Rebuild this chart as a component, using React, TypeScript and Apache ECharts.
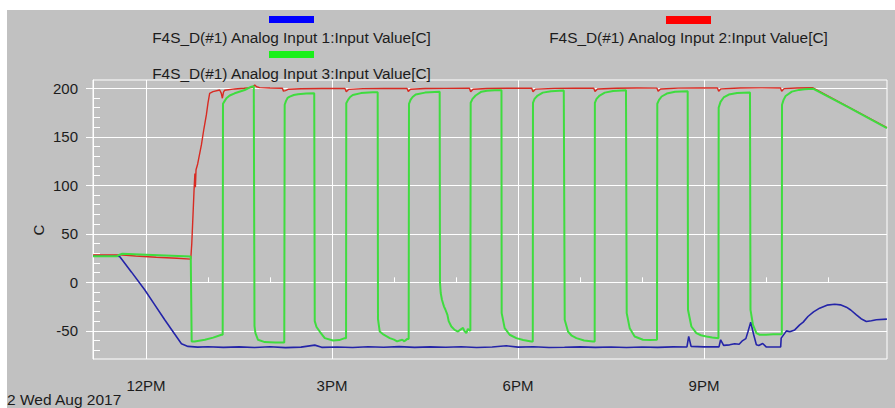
import React, { useEffect, useRef } from 'react';
import * as echarts from 'echarts';

// ---- labels ----
const SERIES_NAMES = [
  'F4S_D(#1) Analog Input 1:Input Value[C]',
  'F4S_D(#1) Analog Input 2:Input Value[C]',
  'F4S_D(#1) Analog Input 3:Input Value[C]',
];
const DATE_LABEL = '2 Wed Aug 2017';
const Y_NAME = 'C';

// ---- axes (x in hours of day, y in °C) ----
const X_RANGE_MIN = [668.7, 1437.1]; // minutes since midnight
const Y_RANGE = [-79, 208.5];
const X_TICK_HOURS = [12, 15, 18, 21];
const X_MINOR_HOURS = [12, 13, 14, 15, 16, 17, 18, 19, 20, 21, 22, 23];
const Y_TICKS = [-50, 0, 50, 100, 150, 200];
const Y_MINOR_TICKS = [-70, -60, -40, -30, -20, -10, 10, 20, 30, 40, 60, 70, 80, 90, 110, 120, 130, 140, 160, 170, 180, 190];

// ---- series: [minutes since midnight, value °C] ----
const input1: [number, number][] = [
  [668.7, 27.3], [680, 27.2], [692, 27], [694.5, 26.6], [706, 10.5], [718.7, -7.7], [728, -22.5], [738.1, -38.6],
  [746, -50.6], [754.3, -63.3], [760.6, -66], [770, -66.8], [780, -66.3], [795, -67], [810, -66.5], [825, -67.2],
  [840, -66.4], [855, -67.3], [870, -66.8], [883.3, -64.7], [890, -67], [905, -66.6], [920, -67.1], [935, -66.3],
  [950, -66.9], [965, -66.2], [980, -67], [995, -66.5], [1010, -66.9], [1025, -66.4], [1040, -67.2], [1055, -66.6],
  [1068.7, -65.4], [1080, -66.8], [1095, -66.3], [1110, -67.1], [1125, -66.9], [1140, -66.5], [1155, -67],
  [1170, -66.7], [1185, -67.2], [1200, -66.6], [1215, -67], [1230, -66.5], [1243.5, -66.6], [1245.2, -55.8],
  [1247.5, -66], [1260, -66.5], [1274.5, -66.5], [1276.1, -59.2], [1279, -65], [1284.8, -64.4], [1289.7, -63.3],
  [1294, -63.8], [1297.4, -60], [1300.5, -58], [1302.6, -50.7], [1305.2, -41], [1308.1, -54], [1310.7, -64.4],
  [1313, -65], [1316.8, -63], [1320.4, -66.7], [1334.2, -66.5], [1334.7, -57.5], [1339.8, -50], [1343, -51],
  [1347.8, -49], [1352.6, -43.8], [1356, -41], [1360.6, -35.2], [1366, -30.5], [1371.9, -26.6], [1379, -23.5],
  [1386.5, -22.5], [1392, -23.2], [1397.8, -25.6], [1402, -28.5], [1407.5, -33.5], [1412, -37.5], [1417.1, -40.3],
  [1422, -39.5], [1426.8, -38.6], [1437, -37.9],
];

const input2: [number, number][] = [
  [668.7, 28.3], [694.5, 28.3], [710, 27.2], [730, 25.9], [750, 24.8], [763.3, 23.9], [764.3, 40], [765.5, 70],
  [766.5, 95], [767.3, 112], [767.8, 98], [768.4, 116], [770, 122], [773.6, 141.6], [776, 158], [778.4, 172.5],
  [780, 185], [781.6, 194.8], [784.8, 196.5], [791.3, 198.2], [792.8, 195], [793.9, 189.7], [795, 196],
  [796.2, 198], [805.8, 199.3], [815, 200], [822, 200.6], [823.5, 201.5], [825.2, 203.4], [827, 201.5],
  [830, 200.6], [840, 200.3], [852, 200], [853, 197], [855, 197.5], [858, 199], [870, 199.5], [890, 199.7],
  [912.5, 199.8], [913.8, 196.5], [916, 198.8], [930, 199.6], [950, 199.8], [972.5, 199.9], [973.8, 196.6],
  [976, 199], [990, 199.7], [1010, 199.9], [1033, 200], [1034.2, 196.5], [1036.5, 199], [1050, 199.8],
  [1070, 200], [1093.3, 200], [1094.5, 196.4], [1097, 199.1], [1115, 199.9], [1135, 200.1], [1153.3, 200],
  [1154.5, 196.6], [1157, 199.2], [1175, 200], [1195, 200.2], [1214.5, 200.1], [1215.6, 196.8], [1218, 199.3],
  [1235, 200.1], [1255, 200.3], [1273, 200.2], [1274.2, 196.8], [1276.5, 199.4], [1295, 200.2], [1315, 200.4],
  [1334, 200.3], [1335.2, 196.9], [1337.5, 199.6], [1350, 200.3], [1365.4, 200.5], [1400, 180.6], [1437, 159.4],
];

const input3: [number, number][] = [
  [668.7, 26.8], [680, 26.8], [692, 26.9], [694.5, 28.5], [697, 29.4], [720, 28.5], [745, 27.5], [763.3, 26.6],
  [764.2, -61], [767.1, -61], [777, -59.2], [785, -57], [793, -54], [794.2, -54],
  [794.5, 184], [796.2, 187], [797.8, 189.7], [801, 192.5], [805.8, 194.8], [815.5, 198.2], [822, 201.6], [824.3, 202],
  [825, -45], [825.9, -52.3], [828.4, -59.2], [834.9, -61.6], [845, -62], [853.8, -62],
  [854.2, 183], [855.5, 187], [857, 190], [859.1, 191.4], [863, 193], [867.1, 193.8], [875, 194.5], [882.8, 194.8],
  [883.3, -40], [885, -46], [888.1, -50.7], [893, -57.5], [901, -60], [907, -59.5], [912.3, -57.5], [913.6, -57.5],
  [913.8, 184.5], [915.5, 188], [917.5, 191], [920.1, 193], [928, 195], [939.5, 195.9], [944.2, 196],
  [944.5, -38], [946.2, -50.7], [950, -54], [955.9, -57.5], [960, -59], [963, -60.8], [965.5, -60], [968, -59.2],
  [970, -60.8], [972.6, -58.5], [974.2, -58.5],
  [974.5, 184], [976, 188], [978, 191], [981, 193.5], [990, 195.5], [1004.2, 196.5],
  [1004.5, 0], [1005.2, -11], [1006.4, -18], [1008.4, -25], [1009.7, -28], [1011.7, -33.5], [1012.9, -40],
  [1015.5, -45.5], [1018.7, -49], [1021.9, -50.7], [1024, -49], [1026.8, -47], [1028, -50], [1030, -52.3],
  [1031.5, -48], [1033.9, -50],
  [1034.2, 185], [1036, 189], [1039, 192.5], [1044.6, 196.5], [1050, 197.5], [1057.4, 198], [1064, 198],
  [1064.2, -31.7], [1067.1, -47.2], [1071.9, -54], [1078.4, -57.5], [1085, -59.5], [1092.9, -61], [1094.3, -61],
  [1094.5, 185], [1096, 189], [1099, 192.5], [1104, 195.5], [1112, 197], [1124.3, 197.6],
  [1125.2, -38.6], [1128.4, -50.7], [1132, -55], [1136.5, -57.5], [1144, -60], [1152.6, -61], [1154.2, -61],
  [1154.4, 185], [1156, 189], [1159, 192.5], [1164, 195.5], [1172, 197.2], [1184.5, 198],
  [1185.2, -31.7], [1188.1, -47.2], [1192.9, -55.8], [1200.9, -59.2], [1208, -59.5], [1214.5, -59.2],
  [1214.8, 184], [1216.5, 188], [1219, 191.5], [1224, 194.5], [1232, 196.3], [1244.2, 197],
  [1244.5, -28.3], [1247.8, -45.5], [1252.6, -52.3], [1257, -54.5], [1262.3, -55.8], [1268, -56.8], [1274, -57.5],
  [1274.2, 180], [1276, 186], [1279, 190.5], [1284, 193.5], [1292, 195], [1304.5, 195.5],
  [1305, -28.3], [1307.4, -43.8], [1310.7, -52.3], [1313.9, -54], [1320, -54], [1327, -53.6], [1335.3, -53.4],
  [1335.5, 183], [1337, 188], [1339, 192], [1345, 196.5], [1352, 198.3], [1357.4, 199], [1365.4, 199.5],
  [1400, 180.2], [1437, 158.8],
];

const FONT = '"Liberation Sans", Arial, sans-serif';
const TEXT = '#1c1c1c';

function hourLabel(v: number): string {
  if (Math.abs(v - Math.round(v)) > 1e-6) return '';
  const h = Math.round(v);
  const h12 = h % 12 === 0 ? 12 : h % 12;
  return `${h12}${h < 12 || h === 24 ? 'AM' : 'PM'}`;
}

const toHours = (arr: [number, number][]) => arr.map(([m, v]) => [m / 60, v]);

export default function App() {
  const ref = useRef<HTMLDivElement>(null);

  useEffect(() => {
    if (!ref.current) return;
    const chart = echarts.init(ref.current, undefined, { renderer: 'svg' });
    const xMin = X_RANGE_MIN[0] / 60;
    const xMax = X_RANGE_MIN[1] / 60;
    chart.setOption({
      animation: false,
      backgroundColor: '#c1c1c1',
      grid: {
        left: 93,
        top: 80,
        width: 794,
        height: 279,
        show: true,
        borderColor: '#ffffff',
        borderWidth: 1,
        backgroundColor: 'transparent',
      },
      xAxis: [
        {
          type: 'value',
          position: 'bottom',
          min: xMin,
          max: xMax,
          splitNumber: 4,
          axisLine: { show: true, lineStyle: { color: '#ffffff' } },
          axisTick: { show: true, inside: false, length: 12, customValues: X_TICK_HOURS, lineStyle: { color: '#ffffff' } },
          axisLabel: {
            customValues: X_TICK_HOURS,
            formatter: hourLabel,
            margin: 19,
            color: TEXT,
            fontSize: 15,
            fontFamily: FONT,
          },
          splitLine: { show: true, lineStyle: { color: '#ffffff', width: 1 } },
        },
        {
          type: 'value',
          position: 'bottom',
          min: xMin,
          max: xMax,
          splitNumber: 13,
          axisLine: { show: false },
          axisTick: { show: true, inside: true, length: 5, customValues: X_MINOR_HOURS, lineStyle: { color: '#ffffff' } },
          axisLabel: { show: false },
          splitLine: { show: false },
        },
      ],
      yAxis: [
        {
          type: 'value',
          position: 'left',
          min: Y_RANGE[0],
          max: Y_RANGE[1],
          splitNumber: 6,
          axisLine: { show: true, lineStyle: { color: '#ffffff' } },
          axisTick: { show: true, inside: false, length: 7, customValues: Y_TICKS, lineStyle: { color: '#ffffff' } },
          axisLabel: {
            customValues: Y_TICKS,
            formatter: (v: number) => (Y_TICKS.includes(v) ? String(v) : ''),
            margin: 15,
            color: TEXT,
            fontSize: 15,
            fontFamily: FONT,
          },
          splitLine: { show: true, lineStyle: { color: '#ffffff', width: 1 } },
        },
        {
          type: 'value',
          position: 'left',
          min: Y_RANGE[0],
          max: Y_RANGE[1],
          splitNumber: 28,
          axisLine: { show: false },
          axisTick: { show: true, inside: true, length: 7, customValues: Y_MINOR_TICKS, lineStyle: { color: '#ffffff' } },
          axisLabel: { show: false },
          splitLine: { show: false },
        },
      ],
      series: [
        {
          name: SERIES_NAMES[0],
          type: 'line',
          xAxisIndex: 0,
          yAxisIndex: 0,
          data: toHours(input1),
          showSymbol: false,
          symbol: 'none',
          silent: true,
          lineStyle: { color: '#2424a8', width: 1.6 },
          itemStyle: { color: '#2424a8' },
        },
        {
          name: SERIES_NAMES[1],
          type: 'line',
          xAxisIndex: 0,
          yAxisIndex: 0,
          data: toHours(input2),
          showSymbol: false,
          symbol: 'none',
          silent: true,
          lineStyle: { color: '#d82a22', width: 1.4 },
          itemStyle: { color: '#d82a22' },
        },
        {
          name: SERIES_NAMES[2],
          type: 'line',
          xAxisIndex: 0,
          yAxisIndex: 0,
          data: toHours(input3),
          showSymbol: false,
          symbol: 'none',
          silent: true,
          lineStyle: { color: '#3fdc3f', width: 2 },
          itemStyle: { color: '#3fdc3f' },
        },
      ],
      graphic: [
        { type: 'rect', shape: { x: 0, y: 0, width: 895, height: 10 }, style: { fill: '#ffffff' }, silent: true },
        { type: 'rect', shape: { x: 0, y: 0, width: 7, height: 408 }, style: { fill: '#ffffff' }, silent: true },
        { type: 'rect', shape: { x: 269, y: 16, width: 45, height: 7 }, style: { fill: '#0000ff' } },
        { type: 'rect', shape: { x: 666, y: 16, width: 45, height: 8 }, style: { fill: '#ff0000' } },
        { type: 'rect', shape: { x: 269, y: 51, width: 45, height: 7 }, style: { fill: '#19f019' } },
        {
          type: 'text', x: 291.5, y: 37.2,
          style: { text: SERIES_NAMES[0], fill: TEXT, fontSize: 15.4, fontFamily: FONT, align: 'center', verticalAlign: 'middle' },
        },
        {
          type: 'text', x: 688.5, y: 37.2,
          style: { text: SERIES_NAMES[1], fill: TEXT, fontSize: 15.4, fontFamily: FONT, align: 'center', verticalAlign: 'middle' },
        },
        {
          type: 'text', x: 291.5, y: 73.7,
          style: { text: SERIES_NAMES[2], fill: TEXT, fontSize: 15.4, fontFamily: FONT, align: 'center', verticalAlign: 'middle' },
        },
        {
          type: 'text', x: 7, y: 399.5,
          style: { text: DATE_LABEL, fill: TEXT, fontSize: 15.5, fontFamily: FONT, align: 'left', verticalAlign: 'middle' },
        },
        {
          type: 'text', x: 38.3, y: 230, rotation: Math.PI / 2,
          style: { text: Y_NAME, fill: TEXT, fontSize: 15, fontFamily: FONT, align: 'center', verticalAlign: 'middle' },
        },
      ],
    });
    return () => chart.dispose();
  }, []);

  return <div ref={ref} style={{ position: 'absolute', left: 0, top: 0, width: 895, height: 408 }} />;
}
